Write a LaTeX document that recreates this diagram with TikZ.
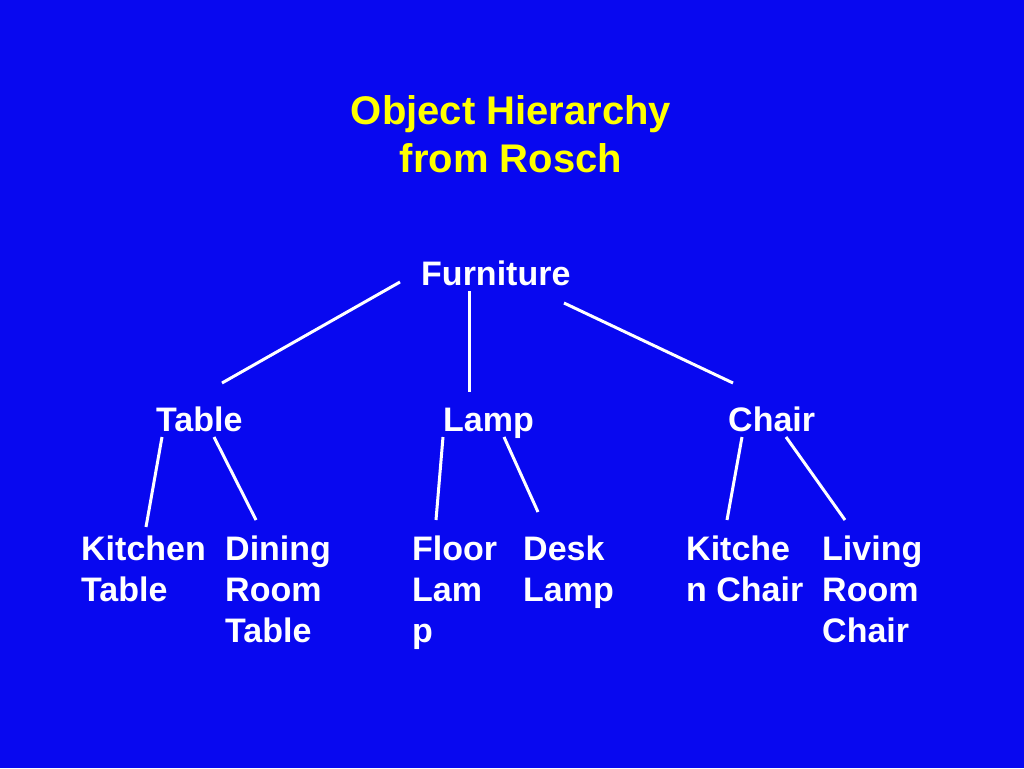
\documentclass[tikz,border=0pt]{standalone}
\usepackage{fontspec}
\setmainfont{Liberation Sans}
\definecolor{bg}{RGB}{8,8,240}
\definecolor{ttl}{RGB}{255,255,0}
\begin{document}
\begin{tikzpicture}[x=1pt,y=-1pt,
  lbl/.style={anchor=base west,inner sep=0pt,text=white,align=left,
    font=\fontsize{34}{41}\selectfont\bfseries},
  ttlstyle/.style={anchor=base,inner sep=0pt,text=ttl,align=center,
    font=\fontsize{40}{48}\selectfont\bfseries},
  edge/.style={white,line width=3pt}]
\fill[bg] (0,0) rectangle (1024,768);
\useasboundingbox (0,0) rectangle (1024,768);
% base anchor of a multi-line node = baseline of its last line
\node[ttlstyle] (title) at (511,172) {Object Hierarchy\\from Rosch};
\node[lbl] (furn) at (421,285) {Furniture};
\node[lbl] (table) at (156,431) {Table};
\node[lbl] (lamp) at (443,431) {Lamp};
\node[lbl] (chair) at (728,431) {Chair};
\node[lbl] (kt) at (81,601) {Kitchen\\Table};
\node[lbl] (drt) at (225,642) {Dining\\Room\\Table};
\node[lbl] (fl) at (412,642) {Floor\\Lam\\p};
\node[lbl] (dl) at (523,601) {Desk\\Lamp};
\node[lbl] (kc) at (686,601) {Kitche\\n Chair};
\node[lbl] (lrc) at (822,642) {Living\\Room\\Chair};
% connector end points
\coordinate (f1) at (400,282); \coordinate (t0) at (222,383);
\coordinate (f2) at (469,291); \coordinate (l0) at (469,392);
\coordinate (f3) at (564,303); \coordinate (c0) at (733,383);
\coordinate (t1) at (162,437); \coordinate (kt0) at (146,527);
\coordinate (t2) at (214,437); \coordinate (drt0) at (256,520);
\coordinate (l1) at (443,437); \coordinate (fl0) at (436,520);
\coordinate (l2) at (504,437); \coordinate (dl0) at (538,512);
\coordinate (c1) at (742,437); \coordinate (kc0) at (727,520);
\coordinate (c2) at (786,437); \coordinate (lrc0) at (845,520);
\draw[edge] (f1) -- (t0);
\draw[edge] (f2) -- (l0);
\draw[edge] (f3) -- (c0);
\draw[edge] (t1) -- (kt0);
\draw[edge] (t2) -- (drt0);
\draw[edge] (l1) -- (fl0);
\draw[edge] (l2) -- (dl0);
\draw[edge] (c1) -- (kc0);
\draw[edge] (c2) -- (lrc0);
\end{tikzpicture}
\end{document}
